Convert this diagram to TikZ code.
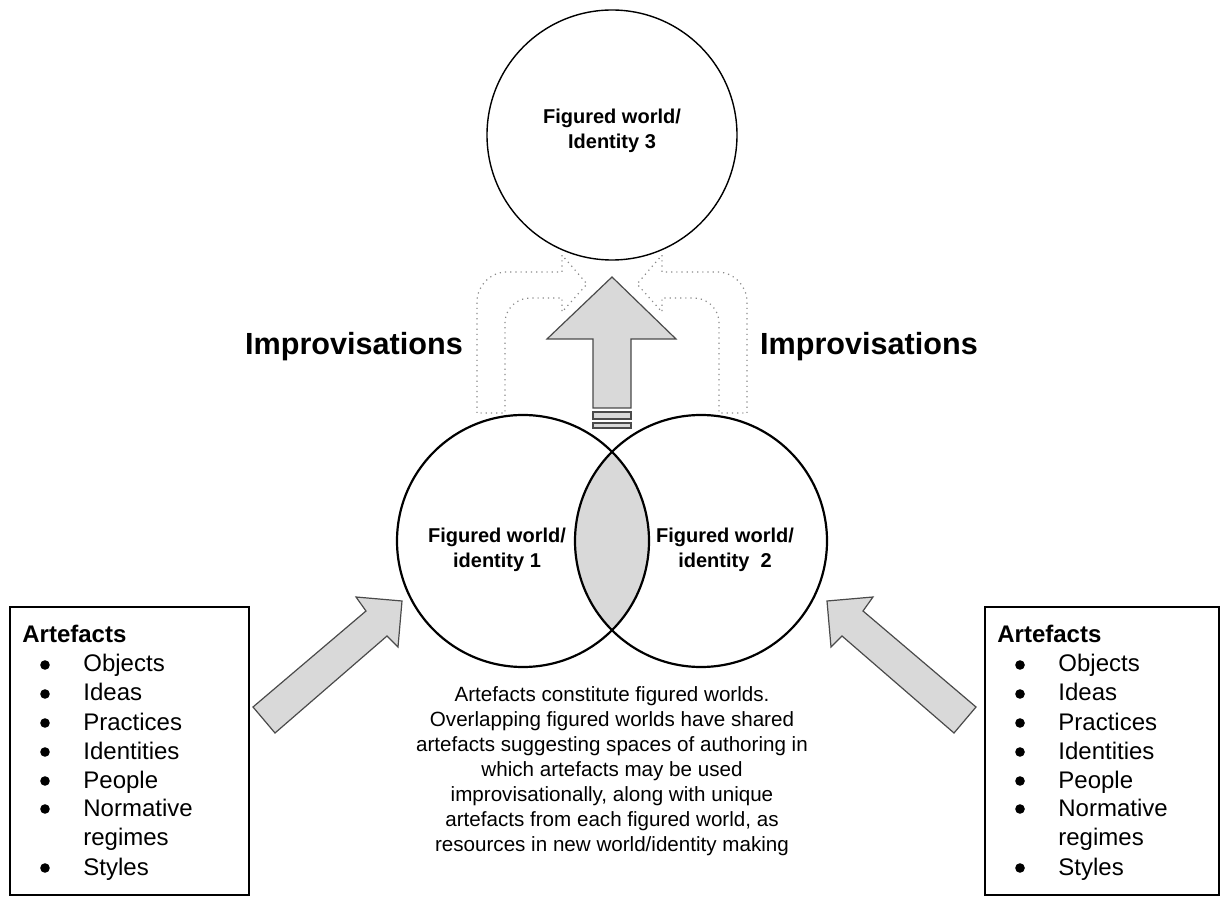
\documentclass[tikz,border=0pt]{standalone}
\usepackage{fontspec}
\setmainfont{Liberation Sans}
\usetikzlibrary{positioning}

\definecolor{lensgray}{HTML}{D9D9D9}
\definecolor{edgegray}{HTML}{4A4A4A}
\definecolor{ghostgray}{HTML}{8A8A8A}

\tikzstyle{world}=[circle, draw=black, line width=1.1pt, minimum size=126pt, inner sep=0pt]
\tikzstyle{worldlabel}=[align=center, inner sep=0pt, font=\bfseries\fontsize{10}{12.5}\selectfont]
\tikzstyle{blockarrow}=[fill=lensgray, draw=edgegray, line width=0.6pt, line join=miter]
\tikzstyle{ghostarrow}=[draw=ghostgray, dotted, line width=0.6pt]
\tikzstyle{bigword}=[inner sep=0pt, font=\bfseries\fontsize{15.3}{18}\selectfont]
\tikzstyle{listbox}=[draw=black, line width=0.6pt, minimum height=144pt, inner sep=0pt, outer sep=0pt, anchor=north west]
\tikzstyle{listitem}=[anchor=base west, inner sep=0pt, font=\fontsize{12}{14}\selectfont]

\begin{document}
\begin{tikzpicture}[x=0.5pt, y=-0.5pt]
	\useasboundingbox (0,0) rectangle (1221,897);
	%Centres of the three worlds
	\coordinate (c1) at (523,541);
	\coordinate (c2) at (701,541);
	\coordinate (c3) at (612,135);
	%Shared part of the two lower worlds
	\begin{scope}
		\clip (c1) circle (63pt);
		\fill[lensgray] (c2) circle (63pt);
	\end{scope}
	\node[world] (fw1) at (c1) {};
	\node[world] (fw2) at (c2) {};
	\node[world, line width=0.7pt, minimum size=125pt] (fw3) at (c3) {};
	\node[worldlabel] (fw1text) at (497,550) {Figured world/\\identity 1};
	\node[worldlabel] (fw2text) at (725,550) {Figured world/\\identity\ \ 2};
	\node[worldlabel] (fw3text) at (612,131) {Figured world/\\Identity 3};
	%Main arrow up to the new world
	\draw[blockarrow] (612,277) -- (676,339) -- (631,339) -- (631,408) -- (593,408)
		-- (593,339) -- (547,339) -- cycle;
	\draw[blockarrow] (593,412) rectangle (631,419);
	\draw[blockarrow] (593,423) rectangle (631,428);
	%Dotted bent arrows on both sides
	\draw[ghostarrow] (477,413) [rounded corners=15pt] -- (477,272) [sharp corners] -- (562,272)
		-- (562,255) -- (587,284) -- (562,312) -- (562,298) [rounded corners=12.5pt] -- (505,298)
		[sharp corners] -- (505,413) -- cycle;
	\draw[ghostarrow] (747,413) [rounded corners=15pt] -- (747,272) [sharp corners] -- (662,272)
		-- (662,255) -- (637,284) -- (662,312) -- (662,298) [rounded corners=12.5pt] -- (719,298)
		[sharp corners] -- (719,413) -- cycle;
	\node[bigword] (impleft) at (354,347) {Improvisations};
	\node[bigword] (impright) at (869,347) {Improvisations};
	%Arrows from the artefact lists
	\draw[blockarrow] (253,707) -- (366,611) -- (356,597) -- (402,601) -- (398,647)
		-- (387,636) -- (275,733) -- cycle;
	\draw[blockarrow] (976,707) -- (863,611) -- (873,597) -- (827,601) -- (831,647)
		-- (842,636) -- (954,733) -- cycle;
	%Caption
	\node[align=center, inner sep=0pt, font=\fontsize{10.3}{12.5}\selectfont] (caption) at (612,771)
		{Artefacts constitute figured worlds.\\
		Overlapping figured worlds have shared\\
		artefacts suggesting spaces of authoring in\\
		which artefacts may be used\\
		improvisationally, along with unique\\
		artefacts from each figured world, as\\
		resources in new world/identity making};
	%The two artefact boxes
	\foreach \bx/\bw/\nm in {10/239/leftbox, 985/234/rightbox}{
		\node[listbox, minimum width=\bw*0.5pt] (\nm) at (\bx,607) {};
		\node[listitem, font=\bfseries\fontsize{12}{14}\selectfont] (\nm-title) at (\bx+12,643) {Artefacts};
		\foreach \t/\y/\b in {Objects/664/1, Ideas/693/1, Practices/722/1, Identities/751/1,
				People/780/1, Normative/808/1, regimes/837/0, Styles/867/1}{
			\node[listitem] (\nm-\t) at (\bx+73,\y+8) {\t};
			\ifnum\b=1 \fill (\bx+35,\y+1) circle (2.4pt); \fi
		}
	}
\end{tikzpicture}
\end{document}
